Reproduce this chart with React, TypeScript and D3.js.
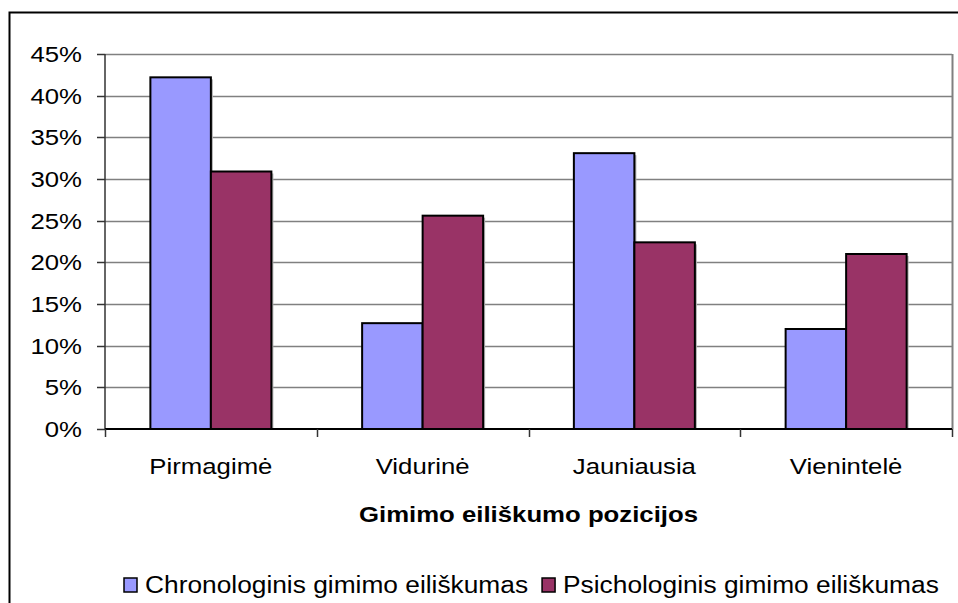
import React, { useEffect, useRef } from "react";
import * as d3 from "d3";

const categories = ["Pirmagimė", "Vidurinė", "Jauniausia", "Vienintelė"];
const seriesNames = [
  "Chronologinis gimimo eiliškumas",
  "Psichologinis gimimo eiliškumas",
];
const chronological = [0.422, 0.127, 0.331, 0.12];
const psychological = [0.309, 0.256, 0.224, 0.21];
const yTicks = [0, 0.05, 0.1, 0.15, 0.2, 0.25, 0.3, 0.35, 0.4, 0.45];
const colors = ["#9999FF", "#993366"];
const axisTitle = "Gimimo eiliškumo pozicijos";

const App = () => {
  const chartRef = useRef<HTMLDivElement>(null);

  useEffect(() => {
    document.body.style.margin = "0";
    const width = 958;
    const height = 603;
    const marginTop = 54;
    const marginRight = 6;
    const marginBottom = 174;
    const marginLeft = 105;
    const font = "'Liberation Sans', Arial, sans-serif";
    const fontSize = 23;
    const sx = 1.12;

    const data = categories.map((c, i) => ({
      category: c,
      values: [chronological[i], psychological[i]],
    }));

    const x = d3
      .scaleBand()
      .domain(categories)
      .range([marginLeft, width - marginRight])
      .padding(0);

    const xInner = d3
      .scaleBand()
      .domain(seriesNames)
      .range([0, x.bandwidth()])
      .paddingInner(0)
      .paddingOuter(0.75);

    const y = d3
      .scaleLinear()
      .domain([0, 0.45])
      .range([height - marginBottom, marginTop]);

    d3.select(chartRef.current).selectAll("*").remove();

    const svg = d3
      .select(chartRef.current)
      .append("svg")
      .attr("width", width)
      .attr("height", height)
      .style("display", "block")
      .style("background", "#fff")
      .attr("font-family", font);

    // outer chart frame
    svg
      .append("rect")
      .attr("x", 9.5)
      .attr("y", 12.5)
      .attr("width", 980)
      .attr("height", 620)
      .attr("fill", "none")
      .attr("stroke", "#000")
      .attr("stroke-width", 2);

    // gridlines
    svg
      .append("g")
      .selectAll("line")
      .data(yTicks.slice(1))
      .join("line")
      .attr("x1", marginLeft)
      .attr("x2", width - marginRight)
      .attr("y1", (d) => Math.round(y(d)) + 0.5)
      .attr("y2", (d) => Math.round(y(d)) + 0.5)
      .attr("stroke", "#808080")
      .attr("stroke-width", 1.5);

    // plot area right border
    svg
      .append("line")
      .attr("x1", width - marginRight + 0.5)
      .attr("x2", width - marginRight + 0.5)
      .attr("y1", y(0.45))
      .attr("y2", y(0))
      .attr("stroke", "#808080")
      .attr("stroke-width", 2);

    // bars
    const groups = svg
      .append("g")
      .selectAll("g")
      .data(data)
      .join("g")
      .attr("transform", (d) => `translate(${x(d.category)},0)`);

    const barData = (d: { values: number[] }) =>
      d.values.map((v, i) => ({ v, i, name: seriesNames[i] }));

    groups
      .selectAll("rect.shadow")
      .data(barData)
      .join("rect")
      .attr("class", "shadow")
      .attr("x", (d) => xInner(d.name)! + 2)
      .attr("y", (d) => y(d.v) + 2)
      .attr("width", xInner.bandwidth())
      .attr("height", (d) => y(0) - y(d.v) - 2)
      .attr("fill", "#b0b0b0");

    groups
      .selectAll("rect.bar")
      .data(barData)
      .join("rect")
      .attr("class", "bar")
      .attr("x", (d) => xInner(d.name)!)
      .attr("y", (d) => y(d.v))
      .attr("width", xInner.bandwidth())
      .attr("height", (d) => y(0) - y(d.v))
      .attr("fill", (d) => colors[d.i])
      .attr("stroke", "#000")
      .attr("stroke-width", 2);

    // y axis
    const yAxis = svg.append("g");
    yAxis
      .append("line")
      .attr("x1", marginLeft)
      .attr("x2", marginLeft)
      .attr("y1", y(0.45))
      .attr("y2", y(0))
      .attr("stroke", "#333")
      .attr("stroke-width", 1.5);
    yAxis
      .selectAll("line.tick")
      .data(yTicks)
      .join("line")
      .attr("class", "tick")
      .attr("x1", marginLeft - 8)
      .attr("x2", marginLeft)
      .attr("y1", (d) => Math.round(y(d)) + 0.5)
      .attr("y2", (d) => Math.round(y(d)) + 0.5)
      .attr("stroke", "#333")
      .attr("stroke-width", 1.5);
    yAxis
      .selectAll("text")
      .data(yTicks)
      .join("text")
      .attr("transform", (d) => `translate(82,${y(d) + 8}) scale(${sx},1)`)
      .attr("text-anchor", "end")
      .attr("font-size", fontSize)
      .text((d) => d3.format(".0%")(d));

    // x axis
    const xAxis = svg.append("g");
    xAxis
      .append("line")
      .attr("x1", marginLeft)
      .attr("x2", width - marginRight)
      .attr("y1", y(0))
      .attr("y2", y(0))
      .attr("stroke", "#000")
      .attr("stroke-width", 2);
    xAxis
      .selectAll("line.tick")
      .data([...categories.map((c) => x(c)!), width - marginRight])
      .join("line")
      .attr("class", "tick")
      .attr("x1", (d) => Math.round(d) + 0.5)
      .attr("x2", (d) => Math.round(d) + 0.5)
      .attr("y1", y(0))
      .attr("y2", y(0) + 8)
      .attr("stroke", "#333")
      .attr("stroke-width", 1.5);
    xAxis
      .selectAll("text")
      .data(categories)
      .join("text")
      .attr(
        "transform",
        (d) => `translate(${x(d)! + x.bandwidth() / 2},474) scale(${sx},1)`
      )
      .attr("text-anchor", "middle")
      .attr("font-size", fontSize)
      .text((d) => d);

    // axis title
    svg
      .append("text")
      .attr(
        "transform",
        `translate(${(marginLeft + width - marginRight) / 2},522) scale(${sx},1)`
      )
      .attr("text-anchor", "middle")
      .attr("font-size", fontSize)
      .attr("font-weight", "bold")
      .text(axisTitle);

    // legend
    const legend = svg.append("g");
    let lx = 124;
    seriesNames.forEach((name, i) => {
      legend
        .append("rect")
        .attr("x", lx)
        .attr("y", 578)
        .attr("width", 13)
        .attr("height", 14)
        .attr("fill", colors[i])
        .attr("stroke", "#000")
        .attr("stroke-width", 1.5);
      const t = legend
        .append("text")
        .attr("transform", `translate(${lx + 21},593) scale(${sx},1)`)
        .attr("font-size", 23.5)
        .text(name);
      const w = (t.node() as SVGTextElement).getComputedTextLength() * sx;
      lx += 21 + w + 14;
    });
  }, []);

  return <div ref={chartRef}></div>;
};

export default App;
